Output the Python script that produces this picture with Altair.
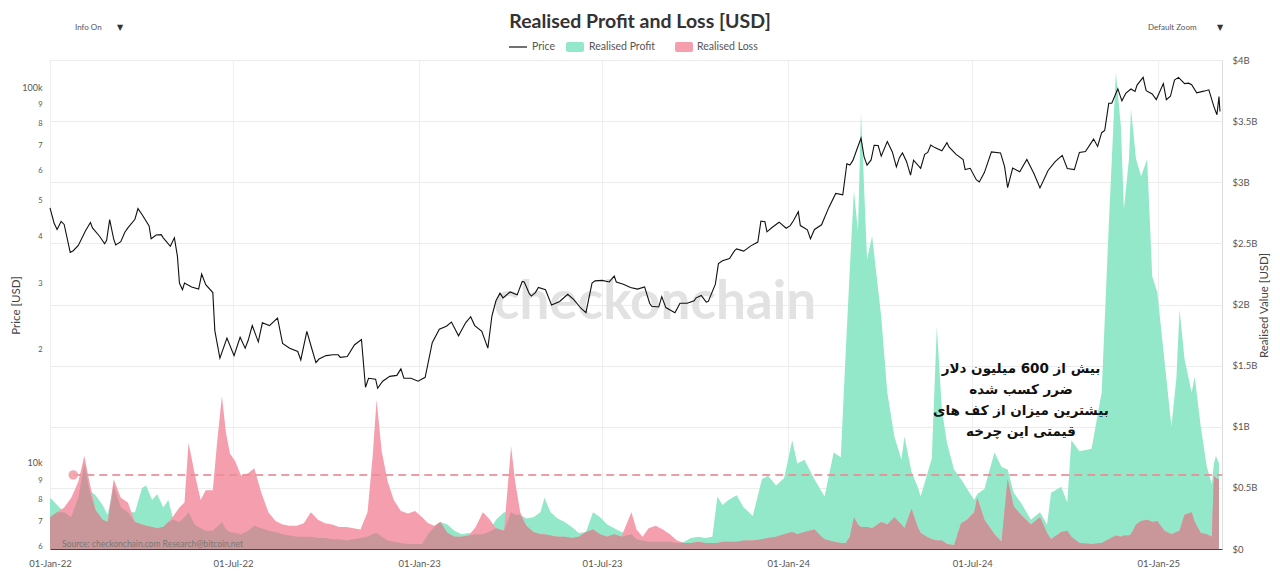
import altair as alt
import pandas as pd

# ---------------- data ----------------
price_dates = [
    "2022-01-01","2022-01-05","2022-01-08","2022-01-12","2022-01-15","2022-01-21","2022-01-24","2022-01-29",
    "2022-02-05","2022-02-10","2022-02-12","2022-02-19","2022-02-24","2022-02-26","2022-03-01","2022-03-05",
    "2022-03-07","2022-03-12","2022-03-16","2022-03-19","2022-03-26","2022-03-29","2022-04-02","2022-04-09",
    "2022-04-11","2022-04-16","2022-04-21","2022-04-23","2022-04-30","2022-05-04","2022-05-07","2022-05-09",
    "2022-05-12","2022-05-14","2022-05-21","2022-05-28","2022-05-31","2022-06-04","2022-06-11","2022-06-13",
    "2022-06-18","2022-06-25","2022-07-02","2022-07-08","2022-07-13","2022-07-16","2022-07-20","2022-07-26",
    "2022-07-30","2022-08-06","2022-08-14","2022-08-19","2022-08-26","2022-09-03","2022-09-06","2022-09-12",
    "2022-09-17","2022-09-21","2022-09-24","2022-10-01","2022-10-08","2022-10-13","2022-10-15","2022-10-22",
    "2022-10-29","2022-11-05","2022-11-09","2022-11-12","2022-11-19","2022-11-21","2022-11-26","2022-12-03",
    "2022-12-10","2022-12-14","2022-12-17","2022-12-24","2022-12-31",
    "2023-01-07","2023-01-14","2023-01-21","2023-01-28","2023-02-02","2023-02-09","2023-02-16","2023-02-21",
    "2023-02-25","2023-03-04","2023-03-10","2023-03-14","2023-03-18","2023-03-22","2023-03-25","2023-04-01",
    "2023-04-08","2023-04-13","2023-04-15","2023-04-20","2023-04-22","2023-04-26","2023-04-29","2023-05-06",
    "2023-05-12","2023-05-20","2023-05-28","2023-06-03","2023-06-10","2023-06-15","2023-06-21","2023-06-24",
    "2023-07-01","2023-07-08","2023-07-13","2023-07-15","2023-07-22","2023-07-29","2023-08-05","2023-08-12",
    "2023-08-17","2023-08-19","2023-08-26","2023-08-29","2023-09-02","2023-09-11","2023-09-16","2023-09-23",
    "2023-09-30","2023-10-02","2023-10-07","2023-10-12","2023-10-14","2023-10-21","2023-10-24","2023-10-28",
    "2023-11-04","2023-11-09","2023-11-11","2023-11-18","2023-11-25","2023-12-02","2023-12-05","2023-12-09",
    "2023-12-11","2023-12-16","2023-12-23","2023-12-30",
    "2024-01-03","2024-01-06","2024-01-11","2024-01-13","2024-01-20","2024-01-23","2024-01-27","2024-02-03",
    "2024-02-10","2024-02-17","2024-02-24","2024-02-28","2024-03-02","2024-03-05","2024-03-09","2024-03-13",
    "2024-03-16","2024-03-19","2024-03-23","2024-03-26","2024-03-30","2024-04-02","2024-04-08","2024-04-13",
    "2024-04-17","2024-04-20","2024-04-23","2024-04-27","2024-05-01","2024-05-04","2024-05-11","2024-05-15",
    "2024-05-18","2024-05-21","2024-05-25","2024-06-01","2024-06-06","2024-06-08","2024-06-15","2024-06-22",
    "2024-06-24","2024-06-29","2024-07-05","2024-07-08","2024-07-13","2024-07-20","2024-07-29","2024-08-02",
    "2024-08-05","2024-08-10","2024-08-17","2024-08-24","2024-08-31","2024-09-06","2024-09-14","2024-09-21",
    "2024-09-28","2024-10-03","2024-10-10","2024-10-15","2024-10-21","2024-10-29","2024-11-02","2024-11-06",
    "2024-11-09","2024-11-13","2024-11-16","2024-11-22","2024-11-26","2024-11-30","2024-12-05","2024-12-09",
    "2024-12-11","2024-12-17","2024-12-20","2024-12-26","2024-12-30",
    "2025-01-06","2025-01-09","2025-01-13","2025-01-17","2025-01-21","2025-01-27","2025-01-31","2025-02-03",
    "2025-02-08","2025-02-15","2025-02-20","2025-02-25","2025-02-28","2025-03-02","2025-03-03",
]
price_usd = [
    47700,43500,41800,43900,43100,36300,36700,37900,
    41400,43600,42200,40100,38300,39100,44400,39400,
    38000,38800,41100,42200,44500,47500,45800,42700,
    39500,40400,40500,39700,37700,39700,35500,30100,
    28900,30100,29400,29000,31800,29800,28400,22500,
    19000,21500,19300,21600,20200,21200,23200,21000,
    23600,23200,24300,20800,20200,19800,18800,22400,
    20100,18500,18900,19300,19400,19400,19100,19200,
    20600,21300,15900,16800,16700,15800,16500,17000,
    17100,17800,16800,16800,16500,
    16900,20900,22700,23100,23700,21800,23600,24500,
    23200,22400,20200,24600,27000,28300,27500,28500,
    28000,30400,30300,28200,27800,28400,29300,28900,
    26300,26900,28100,27200,25800,25100,30100,30500,
    30600,30300,31400,30300,29900,29300,29000,29400,
    26600,26100,26000,27700,25900,25100,26600,26600,
    27000,27500,27900,26800,26900,29900,33900,34500,
    35000,36700,37100,36600,37800,38700,44000,43800,
    41200,42300,43700,42100,
    42800,44000,46600,42800,41700,39500,41800,43000,
    47700,52100,51700,62500,62000,63800,68300,73100,
    65300,62000,64000,70000,69900,65500,71600,67200,
    61300,64900,66800,63400,58300,63900,60800,66200,
    67000,70100,69000,67700,71100,69300,66200,64100,
    60300,60800,56700,55900,59200,67200,66800,61400,
    54000,60900,59500,64200,58900,53900,60000,63300,
    65800,60700,60300,67000,67400,72700,69500,75600,
    76600,90500,90600,98900,91900,96400,98800,97300,
    101200,106100,97800,95800,92600,
    102100,92500,94500,104400,106100,102100,102400,101400,
    96500,97500,98300,88700,84400,94300,86100,
]

pl_dates = [
    "2022-01-01","2022-01-08","2022-01-15","2022-01-22","2022-01-29","2022-02-04","2022-02-09","2022-02-15",
    "2022-02-22","2022-02-27","2022-03-05","2022-03-12","2022-03-19","2022-03-26","2022-04-02","2022-04-06",
    "2022-04-12","2022-04-17","2022-04-23","2022-04-28","2022-05-03","2022-05-09","2022-05-14","2022-05-18",
    "2022-05-24","2022-05-30","2022-06-04","2022-06-11","2022-06-15","2022-06-20","2022-06-24","2022-06-28",
    "2022-07-03","2022-07-09","2022-07-16","2022-07-22","2022-07-29","2022-08-05","2022-08-12","2022-08-19",
    "2022-08-26","2022-09-02","2022-09-09","2022-09-16","2022-09-23","2022-09-30","2022-10-07","2022-10-14",
    "2022-10-21","2022-10-28","2022-11-04","2022-11-11","2022-11-16","2022-11-20","2022-11-25","2022-12-01",
    "2022-12-07","2022-12-14","2022-12-21","2022-12-28",
    "2023-01-04","2023-01-10","2023-01-16","2023-01-22","2023-01-29","2023-02-05","2023-02-12","2023-02-19",
    "2023-02-26","2023-03-05","2023-03-11","2023-03-18","2023-03-26","2023-04-02","2023-04-06","2023-04-11",
    "2023-04-17","2023-04-24","2023-05-01","2023-05-05","2023-05-11","2023-05-18","2023-05-25","2023-06-01",
    "2023-06-08","2023-06-15","2023-06-22","2023-06-29","2023-07-06","2023-07-13","2023-07-20","2023-07-30",
    "2023-08-04","2023-08-10","2023-08-16","2023-08-23","2023-08-30","2023-09-06","2023-09-13","2023-09-20",
    "2023-09-27","2023-10-04","2023-10-11","2023-10-18","2023-10-23","2023-10-28","2023-11-03","2023-11-11",
    "2023-11-18","2023-11-27","2023-12-06","2023-12-12","2023-12-20","2023-12-28",
    "2024-01-05","2024-01-10","2024-01-17","2024-01-27","2024-02-03","2024-02-06","2024-02-15","2024-02-22",
    "2024-02-27","2024-03-02","2024-03-06","2024-03-10","2024-03-13","2024-03-19","2024-03-24","2024-04-02",
    "2024-04-08","2024-04-15","2024-04-22","2024-04-25","2024-05-02","2024-05-08","2024-05-11","2024-05-17",
    "2024-05-22","2024-05-27","2024-06-01","2024-06-06","2024-06-13","2024-06-20","2024-06-26","2024-07-03",
    "2024-07-06","2024-07-13","2024-07-23","2024-07-30","2024-08-05","2024-08-11","2024-08-18","2024-08-28",
    "2024-09-06","2024-09-13","2024-09-17","2024-09-27","2024-10-03","2024-10-07","2024-10-15","2024-10-27",
    "2024-11-06","2024-11-13","2024-11-20","2024-11-25","2024-11-28","2024-12-03","2024-12-05","2024-12-10",
    "2024-12-15","2024-12-21","2024-12-26","2024-12-31",
    "2025-01-07","2025-01-14","2025-01-19","2025-01-22","2025-01-27","2025-02-03","2025-02-06","2025-02-12",
    "2025-02-18","2025-02-23","2025-02-25","2025-02-27","2025-03-02",
]
realised_profit_bn = [
    0.42,0.36,0.30,0.26,0.42,0.70,0.48,0.44,
    0.36,0.28,0.52,0.34,0.30,0.30,0.50,0.52,
    0.40,0.45,0.34,0.40,0.24,0.22,0.26,0.30,
    0.20,0.17,0.15,0.15,0.18,0.22,0.16,0.14,
    0.13,0.12,0.15,0.19,0.17,0.15,0.14,0.12,
    0.11,0.10,0.10,0.10,0.09,0.09,0.08,0.08,
    0.07,0.08,0.09,0.10,0.12,0.13,0.10,0.07,
    0.06,0.05,0.04,0.04,
    0.04,0.12,0.18,0.22,0.20,0.15,0.12,0.13,
    0.12,0.12,0.14,0.24,0.30,0.30,0.28,0.28,
    0.25,0.26,0.30,0.42,0.30,0.25,0.22,0.18,
    0.13,0.14,0.30,0.26,0.20,0.17,0.14,0.12,
    0.08,0.07,0.06,0.06,0.06,0.06,0.05,0.06,
    0.09,0.10,0.09,0.10,0.43,0.36,0.40,0.44,
    0.34,0.27,0.57,0.60,0.52,0.58,
    0.89,0.70,0.73,0.57,0.47,0.43,0.79,0.75,
    1.63,2.30,2.93,2.60,3.57,2.37,2.56,1.90,
    1.28,0.92,0.73,0.92,0.63,0.51,0.43,0.60,
    0.74,1.82,1.14,0.87,0.65,0.57,0.49,0.40,
    0.45,0.49,0.79,0.67,0.65,0.46,0.38,0.24,
    0.30,0.20,0.46,0.51,0.38,0.89,0.80,0.82,
    1.28,2.64,3.90,3.46,2.78,3.19,3.60,3.19,
    3.05,3.19,2.23,2.10,
    1.55,1.00,1.41,1.96,1.55,1.28,1.41,1.00,
    0.67,0.53,0.70,0.76,0.70,
]
realised_loss_bn = [
    0.26,0.30,0.34,0.42,0.55,0.76,0.55,0.32,
    0.24,0.22,0.57,0.42,0.38,0.22,0.20,0.19,
    0.18,0.17,0.18,0.22,0.27,0.34,0.38,0.87,
    0.62,0.40,0.48,0.48,0.85,1.25,0.95,0.78,
    0.72,0.60,0.62,0.66,0.46,0.30,0.23,0.20,
    0.19,0.19,0.21,0.30,0.24,0.21,0.20,0.18,
    0.18,0.17,0.16,0.30,0.75,1.22,0.80,0.55,
    0.40,0.31,0.29,0.31,
    0.26,0.21,0.19,0.22,0.13,0.10,0.10,0.11,
    0.18,0.30,0.25,0.17,0.15,0.84,0.55,0.30,
    0.19,0.14,0.12,0.12,0.11,0.10,0.10,0.09,
    0.10,0.14,0.16,0.12,0.10,0.12,0.10,0.30,
    0.16,0.10,0.17,0.19,0.16,0.12,0.07,0.05,
    0.05,0.06,0.05,0.05,0.05,0.06,0.06,0.06,
    0.07,0.07,0.08,0.09,0.10,0.12,
    0.14,0.12,0.14,0.16,0.10,0.08,0.06,0.05,
    0.05,0.10,0.26,0.20,0.18,0.18,0.17,0.22,
    0.20,0.26,0.20,0.17,0.33,0.18,0.13,0.10,
    0.08,0.07,0.07,0.04,0.03,0.21,0.24,0.30,
    0.42,0.24,0.12,0.06,0.57,0.35,0.28,0.20,
    0.26,0.13,0.08,0.14,0.15,0.10,0.05,0.04,
    0.05,0.08,0.11,0.10,0.11,0.11,0.12,0.20,
    0.23,0.24,0.22,0.23,
    0.15,0.12,0.14,0.15,0.28,0.30,0.22,0.13,
    0.12,0.10,0.60,0.58,0.57,
]

x_tick_dates = [(2022, 1), (2022, 7), (2023, 1), (2023, 7), (2024, 1), (2024, 7), (2025, 1)]
price_ticks = [6000, 7000, 8000, 9000, 10000, 20000, 30000, 40000, 50000,
               60000, 70000, 80000, 90000, 100000]
value_ticks = [0, 0.5, 1, 1.5, 2, 2.5, 3, 3.5, 4]

loss_threshold_bn = 0.606
threshold_from = "2022-01-24"
threshold_to = "2025-03-05"

annotation_lines = "بیش از 600 میلیون دلار\nضرر کسب شده\nبیشترین میزان از کف های\nقیمتی این چرخه"

# ---------------- styling ----------------
FONT = "Lato"
GREEN = "#92e8c9"
PINK = "#f59eae"
BROWN = "#c99799"
W, H = 1172, 489

price_df = pd.DataFrame({"date": price_dates, "price": price_usd})
pl_df = pd.DataFrame({"date": pl_dates, "profit": realised_profit_bn, "loss": realised_loss_bn})
thr_df = pd.DataFrame({"start": [threshold_from], "end": [threshold_to], "v": [loss_threshold_bn]})

def dt(y, m, d=1):
    return alt.DateTime(year=y, month=m, date=d, utc=True)

x_scale = alt.Scale(type="utc", domain=[dt(2022, 1, 1), dt(2025, 3, 5)], nice=False)
x_axis = alt.Axis(
    values=[dt(y, m) for y, m in x_tick_dates],
    labelExpr="utcFormat(datum.value, '%d-%b-%y')",
    grid=True, gridColor="#efefef", gridWidth=1,
    ticks=False, domain=True, domainColor="#444", domainWidth=1,
    labelFont=FONT, labelFontSize=9.5, labelColor="#555", labelPadding=9,
    labelFlush=False, labelOverlap=False,
    title=None,
)
v_scale = alt.Scale(domain=[0, 4], nice=False, zero=True)
v_axis = alt.Axis(
    orient="right", values=value_ticks,
    labelExpr="datum.value == 0 ? '$0' : '$' + datum.value + 'B'",
    grid=True, gridColor="#ececec", ticks=False, domain=False,
    labelFont=FONT, labelFontSize=9.5, labelColor="#555", labelPadding=10,
    title="Realised Value [USD]", titleFont=FONT, titleFontSize=11.5, titleFontWeight="normal",
    titleColor="#444", titleAngle=270, titleX=42, titleY=245, titleAlign="center",
    titleBaseline="middle",
)

x_enc = alt.X("date:T", scale=x_scale, axis=x_axis)

base_pl = alt.Chart(pl_df).transform_calculate(overlap="min(datum.profit, datum.loss)")
profit_area = base_pl.mark_area(color=GREEN, opacity=1).encode(
    x=x_enc, y=alt.Y("profit:Q", scale=v_scale, axis=v_axis))
loss_area = base_pl.mark_area(color=PINK, opacity=1).encode(
    x=x_enc, y=alt.Y("loss:Q", scale=v_scale, axis=v_axis))
overlap_area = base_pl.mark_area(color=BROWN, opacity=1).encode(
    x=x_enc, y=alt.Y("overlap:Q", scale=v_scale, axis=v_axis))

thr_rule = alt.Chart(thr_df).mark_rule(color="#ea8c95", strokeDash=[8, 5], strokeWidth=2, opacity=0.85).encode(
    x=alt.X("start:T", scale=x_scale, axis=x_axis), x2="end:T",
    y=alt.Y("v:Q", scale=v_scale, axis=v_axis))
thr_dot = alt.Chart(thr_df).mark_circle(color="#f2a0a6", size=90, opacity=0.9).encode(
    x=alt.X("start:T", scale=x_scale, axis=x_axis),
    y=alt.Y("v:Q", scale=v_scale, axis=v_axis))

values_layer = alt.layer(profit_area, loss_area, overlap_area, thr_rule, thr_dot)

p_axis = alt.Axis(
    orient="left", values=price_ticks,
    labelExpr=("datum.value == 100000 ? '100k' : datum.value == 10000 ? '10k' : "
               "datum.value > 10000 ? format(datum.value / 10000, 'd') : format(datum.value / 1000, 'd')"),
    labelFontSize={"condition": {"test": "datum.value == 10000 || datum.value == 100000", "value": 9},
                   "value": 7.5},
    grid=False, ticks=False, domain=False,
    labelFont=FONT, labelColor="#555", labelPadding=8,
    title="Price [USD]", titleFont=FONT, titleFontSize=11.5, titleFontWeight="normal",
    titleColor="#444", titleX=-34, titleY=245, titleAngle=270, titleAlign="center",
    titleBaseline="middle",
)
price_line = alt.Chart(price_df).mark_line(color="#111", strokeWidth=1.1).encode(
    x=x_enc,
    y=alt.Y("price:Q", scale=alt.Scale(type="log", domain=[5905, 118000], nice=False), axis=p_axis),
)

def txt(s, **kw):
    return alt.Chart(pd.DataFrame({"t": [s]})).mark_text(**kw).encode(text="t:N")

watermark = txt("checkonchain", font=FONT, fontSize=53, fontWeight="bold", color="#e2e2e2",
                align="center", baseline="middle").encode(x=alt.value(605), y=alt.value(243))
title = txt("Realised Profit and Loss [USD]", font=FONT, fontSize=19.5, fontWeight="bold", color="#333",
            align="center", baseline="middle").encode(x=alt.value(590), y=alt.value(-38))
info_on = txt("Info On", font=FONT, fontSize=8, color="#555", align="left",
              baseline="middle").encode(x=alt.value(25), y=alt.value(-32))
info_arrow = txt("▼", font="DejaVu Sans", fontSize=8, color="#333", align="left",
                 baseline="middle").encode(x=alt.value(67), y=alt.value(-32))
zoom_txt = txt("Default Zoom", font=FONT, fontSize=8, color="#555", align="left",
               baseline="middle").encode(x=alt.value(1098), y=alt.value(-32))
zoom_arrow = txt("▼", font="DejaVu Sans", fontSize=8, color="#333", align="left",
                 baseline="middle").encode(x=alt.value(1167), y=alt.value(-32))

leg_line = alt.Chart(pd.DataFrame({"k": [0]})).mark_rule(color="#111", strokeWidth=1.2).encode(
    x=alt.value(459), x2=alt.value(477), y=alt.value(-13))
leg_price = txt("Price", font=FONT, fontSize=10.5, color="#555", align="left",
                baseline="middle").encode(x=alt.value(482), y=alt.value(-13))
leg_green = alt.Chart(pd.DataFrame({"k": [0]})).mark_rect(color=GREEN, cornerRadius=2).encode(
    x=alt.value(516), x2=alt.value(534), y=alt.value(-18), y2=alt.value(-8))
leg_profit = txt("Realised Profit", font=FONT, fontSize=10.5, color="#555", align="left",
                 baseline="middle").encode(x=alt.value(539), y=alt.value(-13))
leg_pink = alt.Chart(pd.DataFrame({"k": [0]})).mark_rect(color=PINK, cornerRadius=2).encode(
    x=alt.value(625), x2=alt.value(643), y=alt.value(-18), y2=alt.value(-8))
leg_loss = txt("Realised Loss", font=FONT, fontSize=10.5, color="#555", align="left",
               baseline="middle").encode(x=alt.value(647), y=alt.value(-13))

source = txt("Source: checkonchain.com  Research@bitcoin.net", font=FONT, fontSize=8.5, color="#777",
             align="left", baseline="middle").encode(x=alt.value(12), y=alt.value(484))
annotation = txt(annotation_lines, font="DejaVu Sans", fontSize=13.5, fontWeight="bold", color="#111",
                 align="center", baseline="top", lineBreak="\n", lineHeight=21).encode(
    x=alt.value(971), y=alt.value(302))

chart = alt.layer(
    watermark, values_layer, price_line, source, annotation, title, info_on, info_arrow,
    zoom_txt, zoom_arrow, leg_line, leg_price, leg_green, leg_profit, leg_pink, leg_loss,
).resolve_scale(y="independent").properties(
    width=W, height=H,
    autosize=alt.AutoSizeParams(type="none"),
    padding={"left": 42, "top": 52, "right": 50, "bottom": 18},
).configure_view(stroke=None).configure(background="white")

chart.save("out.html", embed_options={"renderer": "svg", "actions": False})
